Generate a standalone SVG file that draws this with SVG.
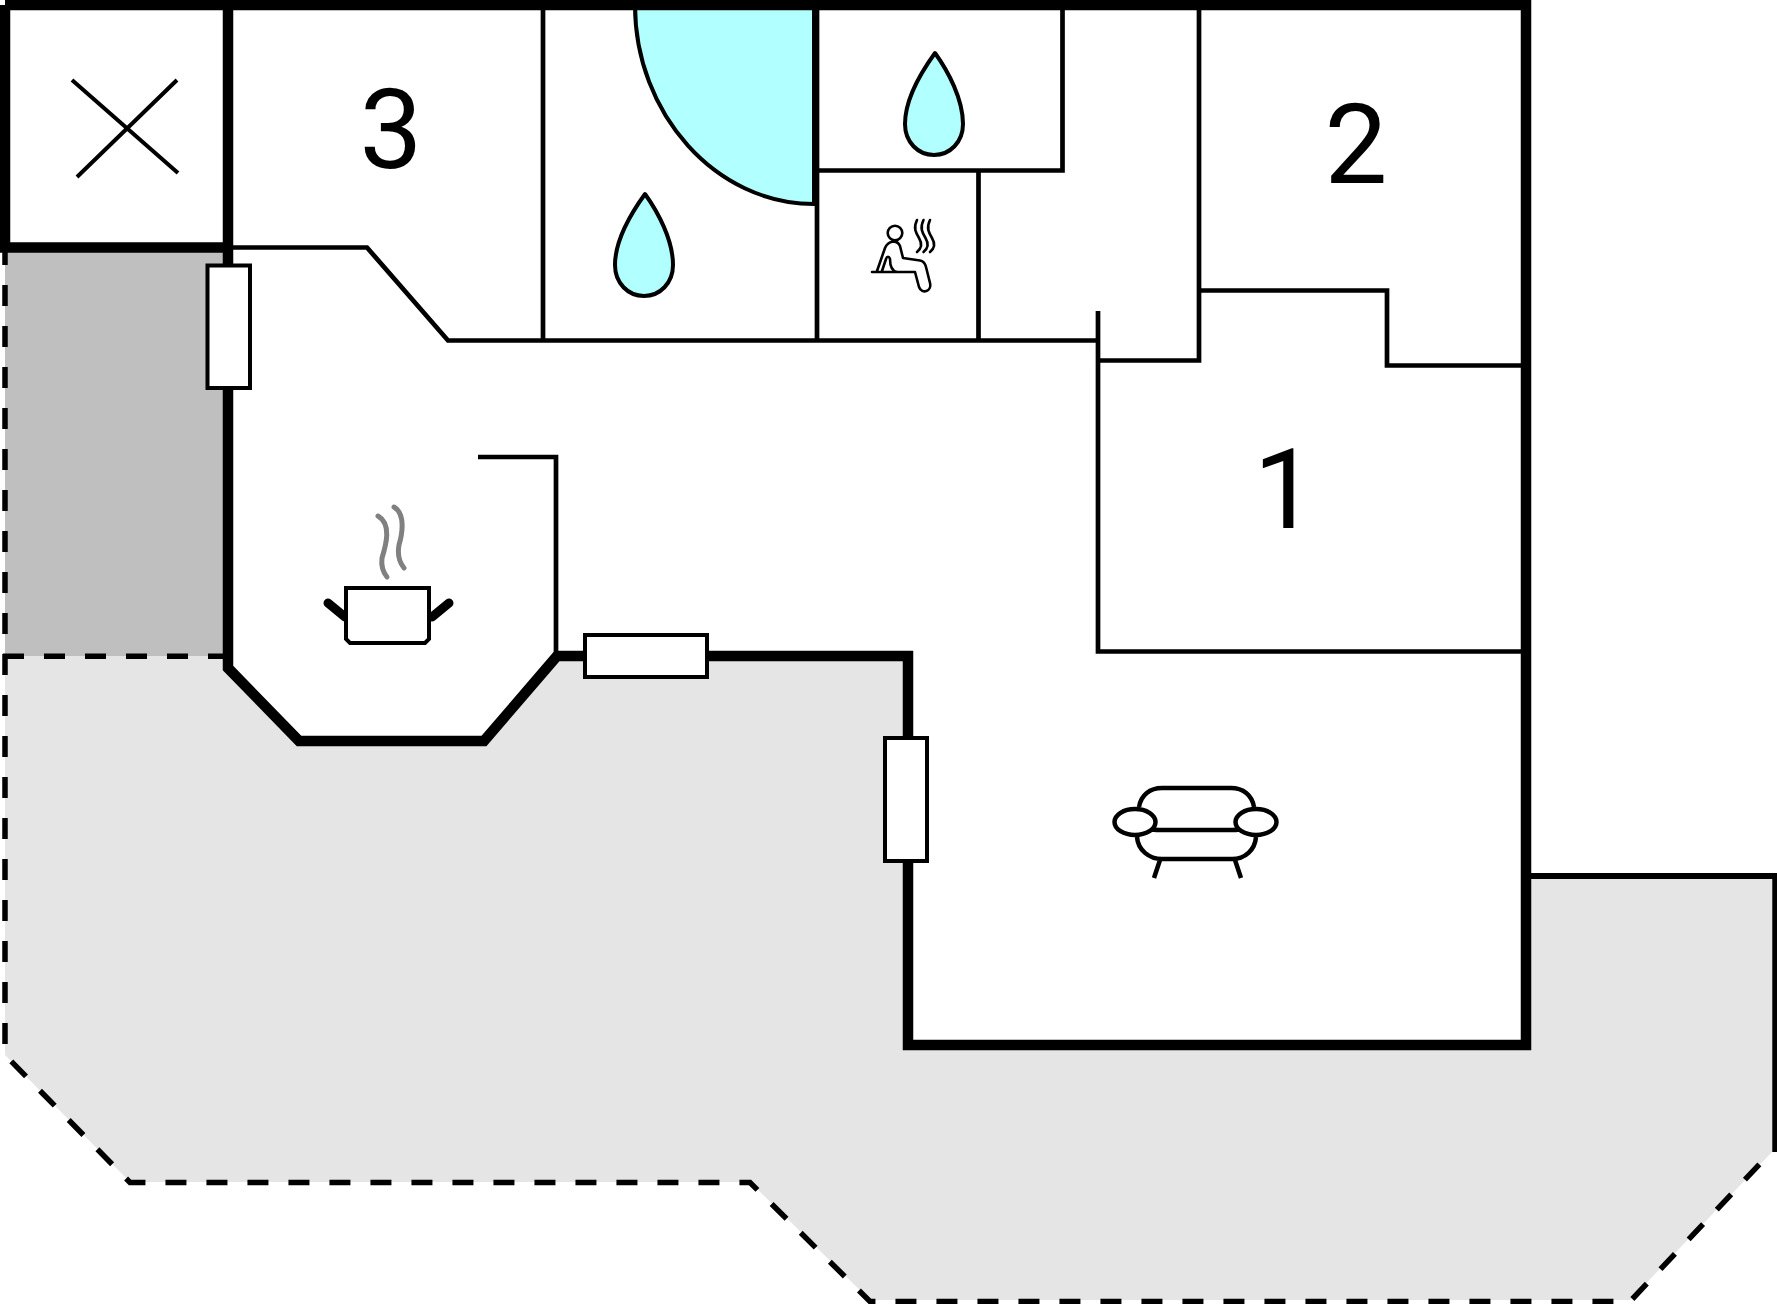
<svg xmlns="http://www.w3.org/2000/svg" width="1777" height="1304" viewBox="0 0 1777 1304">
<style>
.thin{fill:none;stroke:#000;stroke-width:4.7;stroke-linejoin:miter}
.thick{fill:none;stroke:#000;stroke-width:10.5;stroke-linejoin:miter}
.dash{fill:none;stroke:#000;stroke-width:5.5;stroke-dasharray:21 20}
.door{fill:#fff;stroke:#000;stroke-width:4}
.drop{fill:#b2ffff;stroke:#000;stroke-width:4;stroke-linejoin:round}
.num{font-family:Roboto,"Liberation Sans",sans-serif;font-size:112px;font-weight:400;fill:#000;text-anchor:middle}
.icon{fill:none;stroke:#000;stroke-width:2.6;stroke-linecap:round;stroke-linejoin:round}
.sofa{fill:none;stroke:#000;stroke-width:4.5}
.steam{fill:none;stroke:#808080;stroke-width:5;stroke-linecap:round}
</style>
<rect width="1777" height="1304" fill="#fff"/>
<g id="terrace">
<path d="M5,656H223L228,668L299,741H484L557,656H908V1045H1526V876H1772V1152L1630,1300H870L750,1182H130L5,1055Z" fill="#e5e5e5"/>
<rect x="5" y="250" width="223" height="406" fill="#bfbfbf"/>
<path class="dash" d="M5,244V1055L130,1182.500H750L870,1301.500H1630L1773,1150"/>
<path class="dash" d="M3,656.300H223"/>
<path d="M1775,876V1152" fill="none" stroke="#000" stroke-width="5.500"/>
</g>
<g id="walls-thin">
<path class="thin" d="M228,247.500H367L448,340.500H1098"/>
<path class="thin" d="M543,5V340.500M817,5V340.500M978.500,170.500V340.500M1062.500,5V170.500H817"/>
<path class="thin" d="M1199,5V360.500H1098M1098,311V651.500H1526"/>
<path class="thin" d="M1199,290.500H1387V365.500H1526"/>
<path class="thin" d="M478,457H556V656"/>
<path d="M1526,876H1777" fill="none" stroke="#000" stroke-width="6"/>
</g>
<g id="pool">
<path class="drop" d="M635,5C635,114 716,204 814,204V5Z" style="stroke-linejoin:miter"/>
</g>
<g id="walls-thick">
<path class="thick" d="M5,5H1526V1045H908V656H557L484,741H299L228,668V5M5,5V247.500H228"/>
</g>
<g id="storage">
<path d="M72,80L178,173M177,80L77,177" fill="none" stroke="#000" stroke-width="4"/>
</g>
<g id="room-3"><text class="num" x="391" y="168">3</text></g>
<g id="room-2"><text class="num" x="1356" y="183">2</text></g>
<g id="room-1"><text class="num" x="1285" y="528">1</text></g>
<g id="door-1"><rect class="door" x="207.500" y="265.500" width="42.500" height="122.500"/></g>
<g id="door-2"><rect class="door" x="585" y="635" width="122" height="42"/></g>
<g id="door-3"><rect class="door" x="885" y="738" width="42" height="123"/></g>
<g id="shower-1"><path class="drop" d="M645,194C658,212 673,240 673,265C673,283 660,296 644,296C628,296 615,283 615,265C615,240 632,212 645,194Z"/></g>
<g id="shower-2"><path class="drop" d="M935,53C948,71 963,99 963,124C963,142 950,155 934,155C918,155 905,142 905,124C905,99 922,71 935,53Z"/></g>
<g id="sauna">
<circle class="icon" cx="895" cy="233" r="7.300"/>
<path class="icon" d="M872,272H915M877,271L885,248C888,241 897,239 900,246L903,258L920,260.500C923,261 925,263 926,267L930,283C932,291 922,295 919,287L915,272M882,271L886,259C887,256 889,256 890,259C890,266 892,271 897,272"/>
<path class="icon" d="M917,220C913,228 916,233 919,238C922,243 922,248 917,252M923.500,220C919.500,228 922.500,233 925.500,238C928.500,243 928.500,248 923.500,252M930,220C926,228 929,233 932,238C935,243 935,248 930,252"/>
</g>
<g id="kitchen">
<path class="steam" d="M378,516C392,524 386,545 382,558C381,566 383,572 387,577"/>
<path class="steam" d="M394,507C406,514 402,535 399,545C397,556 400,563 404,568"/>
<path d="M328,603L345,617M449,603L432,617" fill="none" stroke="#000" stroke-width="9" stroke-linecap="round"/>
<path d="M346,588H429V639L425,643H350L346,639Z" fill="#fff" stroke="#000" stroke-width="4"/>
</g>
<g id="sofa">
<path class="sofa" d="M1139,807C1141,795 1150,788 1162,788H1231C1243,788 1252,795 1254,807M1150,829C1153,830 1155,830 1160,830H1232C1237,830 1239,830 1242,829M1137,837C1138,850 1149,859 1162,859H1232C1245,859 1255,850 1256,837M1160,860L1154,878M1235,860L1241,878"/>
<ellipse class="sofa" cx="1135" cy="822" rx="20.500" ry="13" style="fill:#fff"/>
<ellipse class="sofa" cx="1256" cy="822" rx="20.500" ry="13" style="fill:#fff"/>
</g>
</svg>
